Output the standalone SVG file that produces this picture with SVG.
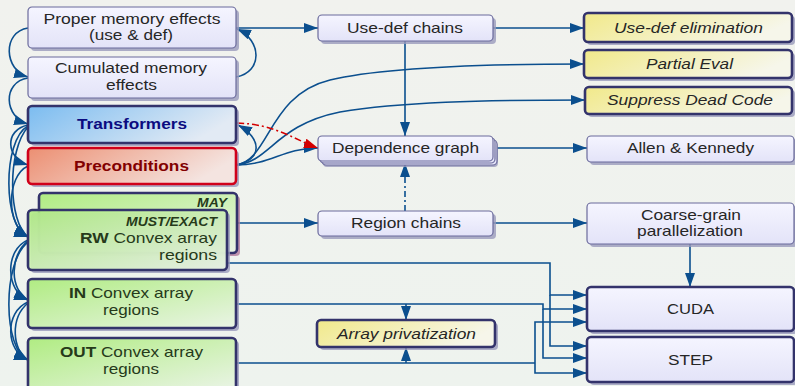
<svg xmlns="http://www.w3.org/2000/svg" width="795" height="386" viewBox="0 0 795 386">
<style>
text{font-family:"Liberation Sans",Arial,sans-serif;font-size:15px;fill:#262626}
.t{text-anchor:middle}
.e{text-anchor:end}
.it{font-style:italic}
.b{font-weight:bold}
.sh{fill:#9a9abb;opacity:.8}
.thin{stroke:#6b6b9c;stroke-width:1.2}
.thick{stroke:#33336b;stroke-width:2.6}
.lav{fill:url(#gLav)}
.yel{fill:url(#gYel)}
.grn{fill:url(#gGrn)}
.gt{fill:#263a1a}
.c{fill:none;stroke:#0b4f8e;stroke-width:1.6}
</style>
<defs>
<linearGradient id="bg" x1="0" y1="0" x2="0" y2="1"><stop offset="0" stop-color="#f1f2ee"/><stop offset="1" stop-color="#eef3ee"/></linearGradient>
<linearGradient id="gLav" x1="0" y1="0" x2="0" y2="1"><stop offset="0" stop-color="#f5f5ff"/><stop offset="1" stop-color="#e3e3f8"/></linearGradient>
<linearGradient id="gYel" x1="0" y1="0" x2="1" y2="0.3"><stop offset="0" stop-color="#f1e98a"/><stop offset="1" stop-color="#f6f6ea"/></linearGradient>
<linearGradient id="gGrn" x1="0" y1="0" x2="1" y2="1"><stop offset="0" stop-color="#b0ec82"/><stop offset="1" stop-color="#eaf4e6"/></linearGradient>
<linearGradient id="gBlue" x1="0" y1="0" x2="1" y2="0.3"><stop offset="0" stop-color="#7bbcf0"/><stop offset="1" stop-color="#e2eaf4"/></linearGradient>
<linearGradient id="gRed" x1="0" y1="0" x2="1" y2="0.3"><stop offset="0" stop-color="#ec8f72"/><stop offset="1" stop-color="#f4e4e0"/></linearGradient>
<marker id="ar" markerUnits="userSpaceOnUse" markerWidth="14" markerHeight="10" refX="14" refY="5" orient="auto"><path d="M0,0 L14,5 L0,10 z" fill="#0b4f8e"/></marker>
<marker id="arR" markerUnits="userSpaceOnUse" markerWidth="14" markerHeight="10" refX="14" refY="5" orient="auto"><path d="M0,0 L14,5 L0,10 z" fill="#d40000"/></marker>
</defs>
<rect width="795" height="386" fill="url(#bg)"/>

<g id="connectors">
<path class="c" marker-end="url(#ar)" d="M236,28 H318"/>
<path class="c" marker-end="url(#ar)" d="M493,28 H584"/>
<path class="c" marker-end="url(#ar)" d="M405,41 V136"/>
<path class="c" marker-end="url(#ar)" d="M236,77 C263,72 262,40 237,29"/>
<path class="c" marker-end="url(#ar)" d="M236,165 C263,160 262,138 238,125"/>
<path class="c" marker-end="url(#ar)" d="M236,165 C272,165 282,148 318,148"/>
<path class="c" marker-end="url(#ar)" d="M236,165 C270,160 268,95 330,80 C380,68 470,64 584,64"/>
<path class="c" marker-end="url(#ar)" d="M236,165 C270,162 275,125 340,112 C400,102 480,100 585,100"/>
<path fill="none" stroke="#d40000" stroke-width="1.5" stroke-dasharray="7,3,2,3" marker-end="url(#arR)" d="M237,123 C275,124 295,140 318,148"/>
<path class="c" marker-end="url(#ar)" d="M497,148 H587"/>
<path class="c" stroke-dasharray="6,3,2,3" marker-end="url(#ar)" d="M405,211 V163"/>
<path class="c" marker-end="url(#ar)" d="M237,223 H318"/>
<path class="c" marker-end="url(#ar)" d="M493,223 H587"/>
<path class="c" marker-end="url(#ar)" d="M690,244 V287"/>
<path class="c" marker-end="url(#ar)" d="M227,263 H550 V295 H587"/>
<path class="c" marker-end="url(#ar)" d="M550,295 V346 H587"/>
<path class="c" marker-end="url(#ar)" d="M236,304 H543 V309 H587"/>
<path class="c" marker-end="url(#ar)" d="M543,309 V358 H587"/>
<path class="c" marker-end="url(#ar)" d="M406,304 V320"/>
<path class="c" d="M236,363 H535"/>
<path class="c" marker-end="url(#ar)" d="M535,363 V322 H587"/>
<path class="c" marker-end="url(#ar)" d="M535,363 V373 H587"/>
<path class="c" marker-end="url(#ar)" d="M406,363 V347"/>
<!-- left side curves -->
<path class="c" marker-end="url(#ar)" d="M28,28 C2,32 4,70 28,77"/>
<path class="c" marker-end="url(#ar)" d="M28,78 C2,82 4,117 28,124"/>
<path class="c" marker-end="url(#ar)" d="M28,125 C4,130 6,158 28,165"/>
<path class="c" marker-end="url(#ar)" d="M28,126 C2,140 3,228 28,237"/>
<path class="c" marker-end="url(#ar)" d="M28,127 C7,150 8,222 28,237"/>
<path class="c" marker-end="url(#ar)" d="M28,166 C6,176 6,226 28,237"/>
<path class="c" marker-end="url(#ar)" d="M28,240 C4,250 6,292 28,300"/>
<path class="c" marker-end="url(#ar)" d="M28,241 C9,256 10,290 28,300"/>
<path class="c" marker-end="url(#ar)" d="M28,242 C2,262 3,350 28,360"/>
<path class="c" marker-end="url(#ar)" d="M28,302 C4,312 6,352 28,360"/>
<path class="c" marker-end="url(#ar)" d="M28,303 C10,318 12,350 28,360"/>
</g>

<g id="proper">
<rect class="sh" x="31" y="10" width="208" height="41" rx="4"/>
<rect class="lav thin" x="28" y="7" width="208" height="41" rx="4"/>
<text class="t" x="132" y="24" textLength="177" lengthAdjust="spacingAndGlyphs">Proper memory effects</text>
<text class="t" x="131" y="40" textLength="84" lengthAdjust="spacingAndGlyphs">(use &amp; def)</text>
</g>
<g id="cumulated">
<rect class="sh" x="31" y="60" width="208" height="41" rx="4"/>
<rect class="lav thin" x="28" y="57" width="208" height="41" rx="4"/>
<text class="t" x="131" y="73" textLength="152" lengthAdjust="spacingAndGlyphs">Cumulated memory</text>
<text class="t" x="131.5" y="90" textLength="51" lengthAdjust="spacingAndGlyphs">effects</text>
</g>
<g id="transformers">
<rect class="sh" x="31" y="109" width="208" height="37" rx="4"/>
<rect fill="url(#gBlue)" class="thick" x="28" y="106" width="208" height="37" rx="4"/>
<text class="t b" x="132" y="129" style="fill:#0b0b80" textLength="110" lengthAdjust="spacingAndGlyphs">Transformers</text>
</g>
<g id="preconditions">
<rect class="sh" x="31" y="151" width="208" height="36" rx="4"/>
<rect fill="url(#gRed)" stroke="#d0001a" stroke-width="2.6" x="28" y="148" width="208" height="36" rx="4"/>
<text class="t b" x="131.5" y="171" style="fill:#820000" textLength="115" lengthAdjust="spacingAndGlyphs">Preconditions</text>
</g>
<g id="rw">
<rect fill="#b27a9c" opacity=".8" x="42" y="196" width="198" height="60" rx="4"/>
<rect class="grn thick" x="39" y="193" width="198" height="60" rx="4"/>
<text class="e b it gt" x="227" y="207" style="font-size:12.5px" textLength="30" lengthAdjust="spacingAndGlyphs">MAY</text>
<rect class="sh" x="31" y="213" width="199" height="60" rx="4"/>
<rect class="grn thick" x="28" y="210" width="199" height="60" rx="4" fill-opacity=".92"/>
<text class="e b it gt" x="217" y="226" style="font-size:12.5px" textLength="91" lengthAdjust="spacingAndGlyphs">MUST/EXACT</text>
<text class="e gt" x="217" y="243" textLength="137" lengthAdjust="spacingAndGlyphs"><tspan class="b">RW</tspan> Convex array</text>
<text class="e gt" x="217" y="260" textLength="58" lengthAdjust="spacingAndGlyphs">regions</text>
</g>
<g id="in">
<rect class="sh" x="31" y="282" width="208" height="49" rx="4"/>
<rect class="grn thick" x="28" y="279" width="208" height="49" rx="4"/>
<text class="t gt" x="131" y="298" textLength="124" lengthAdjust="spacingAndGlyphs"><tspan class="b">IN</tspan> Convex array</text>
<text class="t gt" x="131" y="315" textLength="56" lengthAdjust="spacingAndGlyphs">regions</text>
</g>
<g id="out">
<rect class="sh" x="31" y="341" width="208" height="52" rx="4"/>
<rect class="grn thick" x="28" y="338" width="208" height="52" rx="4"/>
<text class="t gt" x="131.5" y="357" textLength="143" lengthAdjust="spacingAndGlyphs"><tspan class="b">OUT</tspan> Convex array</text>
<text class="t gt" x="131" y="374" textLength="56" lengthAdjust="spacingAndGlyphs">regions</text>
</g>

<g id="usedef">
<rect class="sh" x="321" y="18" width="175" height="26" rx="4"/>
<rect class="lav thin" x="318" y="15" width="175" height="26" rx="4"/>
<text class="t" x="405" y="33" textLength="116" lengthAdjust="spacingAndGlyphs">Use-def chains</text>
</g>
<g id="depgraph">
<rect class="sh" x="323" y="142" width="175" height="25" rx="4"/>
<rect class="lav thin" x="322" y="140" width="175" height="25" rx="4"/>
<rect class="lav thin" x="320" y="138" width="175" height="25" rx="4"/>
<rect class="lav thin" x="318" y="136" width="175" height="25" rx="4"/>
<text class="t" x="405.5" y="153" textLength="147" lengthAdjust="spacingAndGlyphs">Dependence graph</text>
</g>
<g id="regionchains">
<rect class="sh" x="321" y="214" width="175" height="25" rx="4"/>
<rect class="lav thin" x="318" y="211" width="175" height="25" rx="4"/>
<text class="t" x="406" y="228" textLength="110" lengthAdjust="spacingAndGlyphs">Region chains</text>
</g>
<g id="arraypriv">
<rect class="sh" x="320" y="323" width="178" height="27" rx="4"/>
<rect class="yel thick" x="317" y="320" width="178" height="27" rx="4"/>
<text class="t it" x="406.5" y="339" textLength="139" lengthAdjust="spacingAndGlyphs">Array privatization</text>
</g>

<g id="usedefelim">
<rect class="sh" x="587" y="16" width="208" height="29" rx="4"/>
<rect class="yel thick" x="584" y="13" width="208" height="29" rx="4"/>
<text class="t it" x="688.5" y="33" textLength="149" lengthAdjust="spacingAndGlyphs">Use-def elimination</text>
</g>
<g id="partialeval">
<rect class="sh" x="587" y="53" width="208" height="28" rx="4"/>
<rect class="yel thick" x="584" y="50" width="208" height="28" rx="4"/>
<text class="t it" x="689.5" y="69" textLength="87" lengthAdjust="spacingAndGlyphs">Partial Eval</text>
</g>
<g id="suppress">
<rect class="sh" x="588" y="90" width="207" height="27" rx="4"/>
<rect class="yel thick" x="585" y="87" width="207" height="27" rx="4"/>
<text class="t it" x="690" y="105" textLength="166" lengthAdjust="spacingAndGlyphs">Suppress Dead Code</text>
</g>
<g id="allen">
<rect class="sh" x="590" y="139" width="207" height="26" rx="4"/>
<rect class="lav thin" x="587" y="136" width="207" height="26" rx="4"/>
<text class="t" x="690.5" y="153" textLength="127" lengthAdjust="spacingAndGlyphs">Allen &amp; Kennedy</text>
</g>
<g id="coarse">
<rect class="sh" x="590" y="206" width="207" height="41" rx="4"/>
<rect class="lav thin" x="587" y="203" width="207" height="41" rx="4"/>
<text class="t" x="691" y="220" textLength="100" lengthAdjust="spacingAndGlyphs">Coarse-grain</text>
<text class="t" x="690" y="236" textLength="106" lengthAdjust="spacingAndGlyphs">parallelization</text>
</g>
<g id="cuda">
<rect class="sh" x="590" y="290" width="207" height="44" rx="4"/>
<rect class="lav thick" x="587" y="287" width="207" height="44" rx="4"/>
<text class="t" x="690.5" y="314" textLength="47" lengthAdjust="spacingAndGlyphs">CUDA</text>
</g>
<g id="step">
<rect class="sh" x="590" y="340" width="207" height="45" rx="4"/>
<rect class="lav thick" x="587" y="337" width="207" height="45" rx="4"/>
<text class="t" x="690.5" y="365" textLength="45" lengthAdjust="spacingAndGlyphs">STEP</text>
</g>
</svg>
